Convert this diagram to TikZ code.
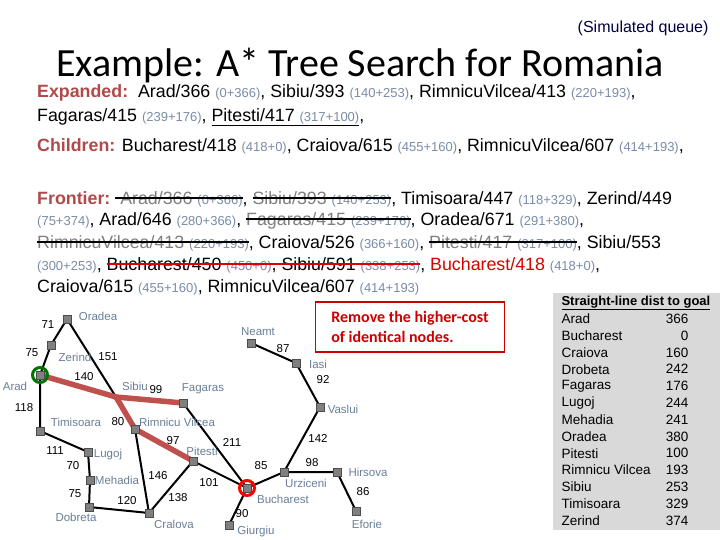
\documentclass[tikz,border=0pt]{standalone}
\usepackage{fontspec}
\setmainfont{Liberation Sans}
\newfontfamily\carl{Carlito}
\begin{document}
\definecolor{hd}{HTML}{B04A4A}
\definecolor{sm}{HTML}{7A8CA8}
\definecolor{cl}{HTML}{6A7F99}
\definecolor{pth}{HTML}{C0504D}
\newcommand\sg[1]{{\fontsize{13}{14}\selectfont\color{sm}#1}}
\newcommand\stk[2]{\setbox0\hbox{#2}\rlap{\usebox0}{\color{#1}\rule[0.3em]{\wd0}{1.9pt}}}
\begin{tikzpicture}[x=1pt,y=-1pt,
  city/.style={draw=black!70,fill=gray,minimum size=8.5pt,inner sep=0pt},
  road/.style={line width=2pt},
  hot/.style={line width=5.5pt,color=pth},
  lab/.style={font=\fontsize{11.5}{12}\selectfont,text=cl},
  num/.style={font=\fontsize{11.5}{12}\selectfont},
  ln/.style={anchor=west,inner sep=0pt,font=\fontsize{17.8}{20}\selectfont}]
\useasboundingbox (0,0) rectangle (720,540);
\fill[white] (0,0) rectangle (720,540);
\node[anchor=east,text=black!75!blue,font=\fontsize{16}{18}\selectfont] (sq) at (712,28) {(Simulated queue)};
\node[font=\carl\fontsize{40}{44}\selectfont] (title) at (360,66) {Example: A* Tree Search for Romania};
\node[ln] (e1) at (37,93) {{\bfseries\color{hd}Expanded:}\ \ Arad/366 \sg{(0+366)}, Sibiu/393 \sg{(140+253)}, RimnicuVilcea/413 \sg{(220+193)},};
\node[ln] (e2) at (37,117) {Fagaras/415 \sg{(239+176)}, \underline{Pitesti/417 \sg{(317+100)}},};
\node[ln] (c1) at (37,146) {{\bfseries\color{hd}Children:} Bucharest/418 \sg{(418+0)}, Craiova/615 \sg{(455+160)}, RimnicuVilcea/607 \sg{(414+193)},};
\node[ln] (f1) at (37,199) {{\bfseries\color{hd}Frontier:}\ \stk{black}{\ {\color{gray}Arad/366} \sg{(0+366)}}, \stk{black}{{\color{gray}Sibiu/393} \sg{(140+253)}}, Timisoara/447 \sg{(118+329)}, Zerind/449};
\node[ln] (f2) at (37,221) {\sg{(75+374)}, Arad/646 \sg{(280+366)}, \stk{black}{{\color{gray}Fagaras/415} \sg{(239+176)}}, Oradea/671 \sg{(291+380)},};
\node[ln] (f3) at (37,243) {\stk{black}{{\color{gray}RimnicuVilcea/413} \sg{(220+193)}}, Craiova/526 \sg{(366+160)}, \stk{black}{{\color{gray}Pitesti/417} \sg{(317+100)}}, Sibiu/553};
\node[ln] (f4) at (37,265) {\sg{(300+253)}, \stk{red!85!black}{Bucharest/450 \sg{(450+0)}, Sibiu/591 \sg{(338+253)}}, {\color{red!85!black}Bucharest/418} \sg{(418+0)},};
\node[ln] (f6) at (37,287) {Craiova/615 \sg{(455+160)}, RimnicuVilcea/607 \sg{(414+193)}};
% table
\fill[gray!30] (553,293) rectangle (720,530);
\node[anchor=west,font=\fontsize{13}{14}\selectfont\bfseries] (th) at (558,303) {\underline{Straight-line dist to goal}};
\foreach \n/\v [count=\i] in {Arad/366,Bucharest/0,Craiova/160,Drobeta/242,Fagaras/176,Lugoj/244,Mehadia/241,Oradea/380,Pitesti/100,Rimnicu Vilcea/193,Sibiu/253,Timisoara/329,Zerind/374}{
  \node[anchor=west,font=\fontsize{13.5}{14}\selectfont] (tn\i) at (558,302+16.8*\i) {\n};
  \node[anchor=east,font=\fontsize{13.5}{14}\selectfont] (tv\i) at (692,302+16.8*\i) {\v};
}
% remove box
\node[draw=red!80!black,line width=1.5pt,text=red!80!black,font=\carl\bfseries\fontsize{16}{20}\selectfont,align=left,minimum width=189pt,minimum height=50pt] (rm) at (410,327) {Remove the higher-cost\\of identical nodes.};
% map
\coordinate (Or) at (67,319); \coordinate (Ze) at (51,345); \coordinate (Ar) at (40,375);
\coordinate (Ti) at (40,431); \coordinate (Lu) at (88,452); \coordinate (Me) at (90,480);
\coordinate (Do) at (89,507); \coordinate (Cr) at (149,513); \coordinate (Ri) at (135,429);
\coordinate (Si) at (116,397); \coordinate (Fa) at (183,403); \coordinate (Pi) at (193,461);
\coordinate (Bu) at (247,488); \coordinate (Gi) at (229,525); \coordinate (Ur) at (284,472);
\coordinate (Hi) at (337,472); \coordinate (Ef) at (356,511); \coordinate (Va) at (320,407);
\coordinate (Ia) at (296,363); \coordinate (Ne) at (251,343);
\draw[road] (Or)--(Ze)--(Ar)--(Ti)--(Lu)--(Me)--(Do)--(Cr)--(Pi)--(Bu)--(Gi);
\draw[road] (Or)--(Si); \draw[road] (Ri)--(Cr); \draw[road] (Fa)--(Bu);
\draw[road] (Bu)--(Ur)--(Hi)--(Ef); \draw[road] (Ur)--(Va)--(Ia)--(Ne);
\draw[hot,line cap=round] (Ar)--(Si)--(Fa); \draw[hot,line cap=round] (Si)--(Ri)--(Pi);
\draw[green!45!black,line width=3pt] (Ar) circle (7.5pt);
\draw[red,line width=3pt] (Bu) circle (7.5pt);
\foreach \c in {Or,Ze,Ar,Ti,Lu,Me,Do,Cr,Ri,Fa,Pi,Bu,Gi,Ur,Hi,Ef,Va,Ia,Ne}{\node[city] (n\c) at (\c) {};}
\foreach \t/\x/\y in {Oradea/98/316,Zerind/75/357,Arad/15/386,Sibiu/135/386,Fagaras/203/389,Timisoara/76/422,Rimnicu Vilcea/177/422,Lugoj/108/455,Pitesti/202/451,Mehadia/117/480,Dobreta/76/517,Cralova/174/524,Bucharest/283/499,Giurgiu/256/532,Urziceni/306/483,Hirsova/368/472,Eforie/367/524,Vaslui/343/409,Iasi/318/364,Neamt/258/332}{\node[lab] at (\x,\y) {\t};}
\foreach \t/\x/\y in {71/48/325,75/32/353,151/108/357,140/84/377,99/156/390,118/24/408,80/118/422,97/173/441,211/232/442,111/55/451,70/73/466,146/158/476,101/209/483,85/261/466,138/178/498,75/75/494,120/127/501,90/242/514,98/312/463,86/363/492,142/318/438,92/323/380,87/283/349}{\node[num] at (\x,\y) {\t};}
\end{tikzpicture}
\end{document}
